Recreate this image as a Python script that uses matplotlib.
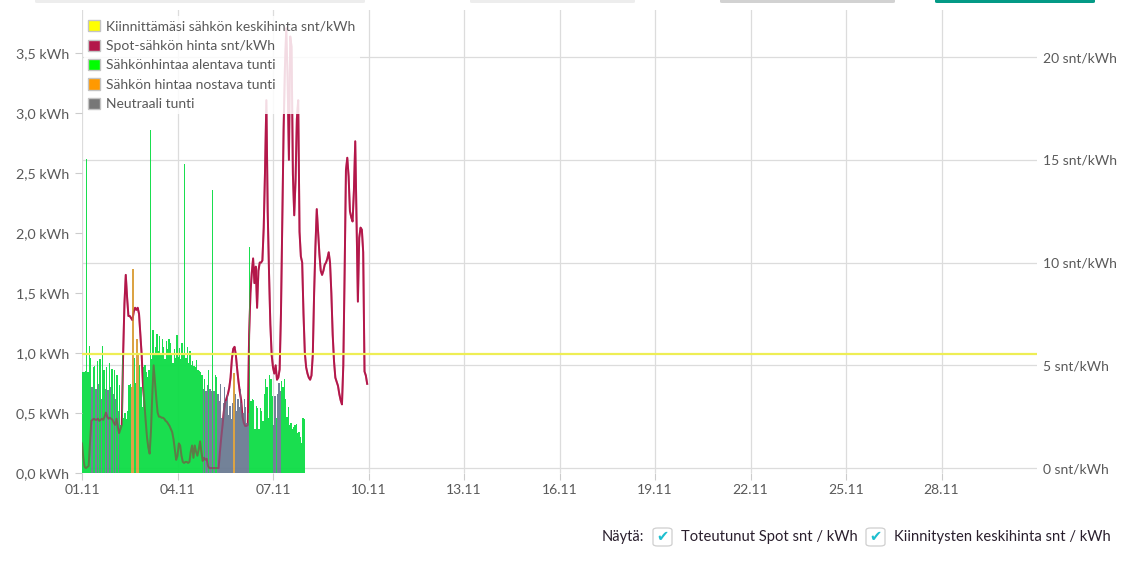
import matplotlib
matplotlib.use("Agg")
import matplotlib.pyplot as plt
from matplotlib.patches import Patch, FancyBboxPatch
import numpy as np

plt.rcParams['font.family'] = ['Lato', 'DejaVu Sans']

# spot price snt/kWh, one value per hour starting 01.11 00:00
spot_price = (
    [1.2, 0.5, 0.05, 0.0, 0.05, 0.1, 1.2, 2.3, 2.35, 2.4, 2.35, 2.35, 2.4, 2.3, 2.35, 2.4, 2.35, 2.5, 2.7, 2.5, 2.4, 2.45, 2.4, 2.35]
    + [2.2, 2.1, 2.4, 2.0, 1.7, 1.9, 2.1, 5.5, 8.0, 9.4, 8.3, 7.4, 7.4, 7.3, 7.2, 7.6, 7.8, 7.7, 7.8, 7.5, 6.5, 5.5, 4.0, 3.2]
    + [2.3, 1.5, 1.0, 0.7, 1.8, 3.6, 5.0, 4.2, 3.4, 2.7, 2.5, 2.5, 2.45, 2.45, 2.4, 2.3, 2.25, 2.15, 2.05, 1.9, 1.75, 1.4, 0.9, 0.4]
    + [0.6, 1.2, 1.1, 0.6, 0.3, 0.25, 0.3, 0.3, 0.25, 0.3, 0.8, 1.1, 0.5, 1.1, 0.8, 0.6, 0.9, 1.3, 0.8, 0.35, 0.5, 0.4, 0.45, 0.1]
    + [0.0, 0.0, 0.0, 0.0, 0.0, 0.0, 0.0, 0.0, 0.8, 1.5, 2.1, 2.8, 3.2, 3.4, 3.6, 3.9, 4.4, 5.3, 5.8, 5.9, 5.5, 4.8, 4.2, 3.7]
    + [3.3, 2.5, 2.2, 2.05, 2.05, 2.1, 6.5, 8.5, 9.5, 10.2, 9.0, 9.8, 7.8, 9.6, 10.0, 10.0, 10.1, 11.7, 14.5, 17.9, 12.5, 9.5, 7.0, 5.5]
    + [4.9, 4.6, 5.0, 4.3, 4.4, 4.8, 7.5, 12.0, 16.5, 19.5, 21.4, 19.0, 15.0, 21.0, 20.5, 14.3, 12.3, 14.0, 17.0, 17.9, 11.5, 10.3, 10.0, 7.5]
    + [5.6, 4.9, 4.6, 4.4, 4.3, 4.5, 5.5, 8.5, 10.8, 12.6, 11.5, 10.4, 9.6, 9.4, 9.6, 9.9, 10.0, 10.2, 10.5, 10.0, 8.5, 6.5, 5.2, 4.4]
    + [4.2, 4.0, 3.6, 3.3, 3.1, 5.0, 9.5, 14.5, 15.1, 14.2, 12.5, 12.2, 12.0, 13.5, 15.9, 12.0, 8.1, 11.2, 11.7, 11.6, 10.5, 4.7, 4.5, 4.1]
)

# consumption kWh per hour starting 01.11 00:00
consumption = (
    [0.84, 0.84, 0.85, 2.62, 0.84, 1.06, 0.96, 0.72, 0.88, 0.89, 0.70, 0.93, 0.74, 0.95, 0.62, 1.06, 0.86, 0.70, 0.88, 0.69, 0.92, 0.72, 0.87, 0.66]
    + [0.86, 0.62, 0.82, 0.52, 0.73, 0.40, 1.00, 0.46, 0.50, 0.45, 0.52, 0.73, 0.74, 0.72, 1.70, 0.96, 0.75, 1.12, 1.00, 0.90, 0.72, 0.55, 0.88, 0.90]
    + [0.84, 0.80, 0.86, 2.86, 0.95, 1.19, 0.98, 1.05, 1.16, 1.02, 1.14, 1.00, 1.12, 1.05, 0.95, 1.10, 1.03, 1.12, 1.08, 1.00, 0.92, 1.03, 0.96, 1.15]
    + [0.97, 1.04, 0.95, 1.08, 0.98, 2.58, 0.96, 1.05, 0.92, 1.02, 0.90, 0.93, 0.89, 0.88, 0.94, 0.86, 0.85, 0.84, 0.82, 0.70, 0.78, 0.68, 0.73, 0.86]
    + [0.70, 0.68, 2.36, 0.68, 0.82, 0.80, 0.66, 0.60, 0.74, 0.46, 0.58, 0.72, 0.60, 0.66, 0.48, 0.56, 0.45, 0.58, 0.83, 0.66, 0.52, 0.62, 0.55, 0.70]
    + [0.58, 0.50, 0.62, 0.55, 0.42, 0.50, 1.88, 0.60, 0.62, 0.61, 0.37, 0.56, 0.54, 0.37, 0.54, 0.52, 0.43, 0.66, 0.78, 0.72, 0.46, 0.82, 0.78, 0.64]
    + [0.40, 0.64, 0.46, 0.66, 0.75, 0.68, 0.77, 0.72, 0.78, 0.62, 0.47, 0.55, 0.40, 0.42, 0.37, 0.38, 0.40, 0.41, 0.33, 0.34, 0.30, 0.25, 0.46, 0.45]
)

# g = lowers price (green), o = raises price (orange), n = neutral
hour_type = (
    "gggggggnggngngnggngngngn"
    + "gngngggggggggooggooggggg"
    + "gggggggggggggggggggggggg"
    + "gggggggggggggggggggngnng"
    + "nngnggnnnnnnnnnnnnonnnnn"
    + "nnnnnnggggggggggggggggggn"[:24]
    + "nngnnngggggggggggggggggg"
)

fixed_price = 5.56
tick_labels = ["01.11", "04.11", "07.11", "10.11", "13.11", "16.11",
               "19.11", "22.11", "25.11", "28.11"]
kwh_ticks = [0, 0.5, 1.0, 1.5, 2.0, 2.5, 3.0, 3.5]
snt_ticks = [0, 5, 10, 15, 20]
legend_labels = ["Kiinnittämäsi sähkön keskihinta snt/kWh", "Spot-sähkön hinta snt/kWh",
                 "Sähkönhintaa alentava tunti", "Sähkön hintaa nostava tunti", "Neutraali tunti"]

type_colors = {"g": "#0ddd45", "o": "#d99e3a", "n": "#6b7b93"}
crimson = "#b3174a"
txt = "#595959"

W, H = 1135, 567
fig = plt.figure(figsize=(W / 100, H / 100), dpi=100)
pos = [82 / W, 1 - 473 / H, (1037 - 82) / W, (473 - 10) / H]

# bottom axes: spot price line (right axis) + grid
ax_price = fig.add_axes(pos)
hours_spot = np.arange(len(spot_price)) / 24
ax_price.plot(hours_spot, spot_price, color=crimson, lw=1.4)
ax_price.set_xlim(0, 30)
ax_price.set_ylim(-0.24, 22.29)
ax_price.set_yticks(snt_ticks)
ax_price.set_yticklabels([f"{t} snt/kWh" for t in snt_ticks])
ax_price.yaxis.tick_right()
ax_price.tick_params(axis="y", length=0, pad=4, labelsize=10, labelcolor=txt)
ax_price.set_xticks(np.arange(0, 30, 3))
ax_price.set_xticklabels(tick_labels)
ax_price.tick_params(axis="x", length=5, color="#cccccc", pad=3, labelsize=10, labelcolor=txt)
ax_price.grid(True, color="#dcdcdc", lw=0.9)
for s in ax_price.spines.values():
    s.set_visible(False)

# middle axes: consumption bars (left axis)
ax_bar = fig.add_axes(pos, facecolor="none")
hours_bar = np.arange(len(consumption)) / 24
bar_colors = [type_colors[c] for c in hour_type]
ax_bar.bar(hours_bar, consumption, width=1.0 / 24, align="edge", color=bar_colors,
           alpha=0.95, linewidth=0)
ax_bar.set_xlim(0, 30)
ax_bar.set_ylim(0, 3.86)
ax_bar.set_yticks(kwh_ticks)
ax_bar.set_yticklabels([f"{t:.1f} kWh".replace(".", ",") for t in kwh_ticks])
ax_bar.tick_params(axis="y", length=5, color="#cccccc", pad=4, labelsize=10.3, labelcolor=txt)
ax_bar.set_xticks([])
for s in ax_bar.spines.values():
    s.set_visible(False)

# top axes: fixed price, faint spot overlay, legend
ax_top = fig.add_axes(pos, facecolor="none", sharex=ax_price, sharey=ax_price)
ax_top.plot(hours_spot, spot_price, color=crimson, lw=1.4, alpha=0.45)
ax_top.axhline(fixed_price, color="#eeee55", lw=1.6)
ax_top.axis("off")

handles = [Patch(facecolor=c, edgecolor="#c4c4c4", linewidth=1)
           for c in ["#ffff00", crimson, "#00ff00", "#ff9900", "#777777"]]
leg = ax_top.legend(handles, legend_labels, loc="upper left", bbox_to_anchor=(0.002, 0.987),
                    frameon=True, fontsize=10, handlelength=0.85, handleheight=0.85,
                    handletextpad=0.45, labelspacing=0.51, borderpad=0.3, borderaxespad=0)
leg.get_frame().set_facecolor("white")
leg.get_frame().set_alpha(0.85)
leg.get_frame().set_linewidth(0)
for t in leg.get_texts():
    t.set_color(txt)

# page controls below the chart
fy = 1 - 537 / H
fig.text(602 / W, fy, "Näytä:", fontsize=10.5, color="#2a1f2d", va="center")
for x0, label in [(653, "Toteutunut Spot snt / kWh"), (866, "Kiinnitysten keskihinta snt / kWh")]:
    box = FancyBboxPatch((x0 / W, (567 - 546) / H), 19 / W, 18 / H,
                         boxstyle="round,pad=0,rounding_size=0.004", transform=fig.transFigure,
                         facecolor="white", edgecolor="#cfcfcf", lw=0.9)
    fig.patches.append(box)
    fig.text((x0 + 9.5) / W, fy, "\u2714", fontsize=10.5, color="#1dbfcf", ha="center", va="center",
             family="DejaVu Sans")
    fig.text((x0 + 28) / W, fy, label, fontsize=10.6, color="#2a1f2d", va="center")

# bits of page buttons cut off at the top edge
for x0, x1, c in [(35, 365, "#ededed"), (470, 635, "#ededed"), (720, 895, "#d2d2d2"), (935, 1095, "#049a86")]:
    fig.patches.append(FancyBboxPatch((x0 / W, 1 - 3 / H), (x1 - x0) / W, 4 / H,
                                      boxstyle="round,pad=0,rounding_size=0.002",
                                      transform=fig.transFigure, facecolor=c, lw=0))

fig.savefig("out.png", dpi=100)
